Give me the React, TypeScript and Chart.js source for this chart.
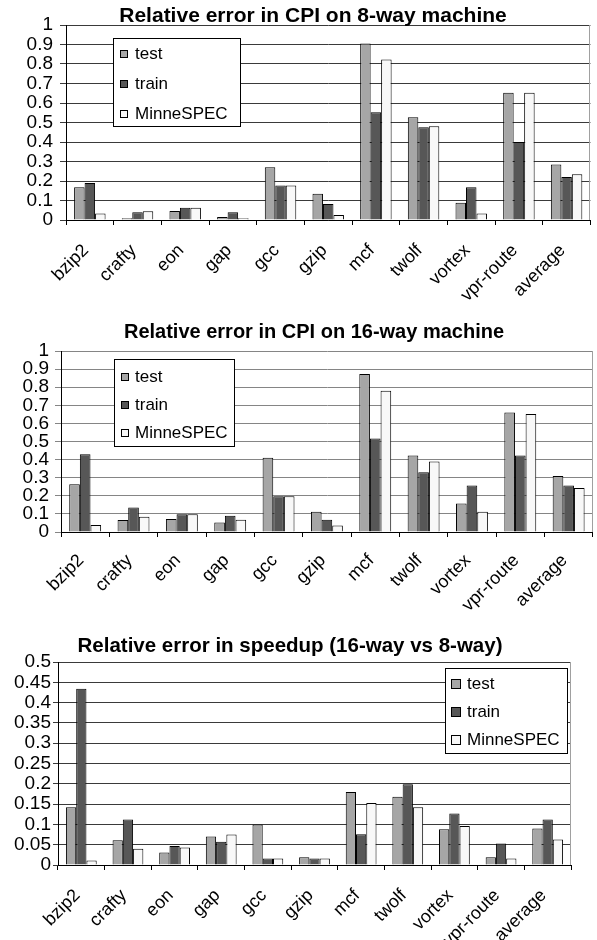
import React, { useEffect, useRef } from "react";
import { Chart, registerables } from "chart.js";

Chart.register(...registerables);

const FONT = "'Liberation Sans', Arial, Helvetica, sans-serif";

const categories = ["bzip2", "crafty", "eon", "gap", "gcc", "gzip", "mcf", "twolf", "vortex", "vpr-route", "average"];
const seriesNames = ["test", "train", "MinneSPEC"];
const seriesColors = ["#a6a6a6", "#575757", "#f8f8f8"];

// Relative error in CPI on 8-way machine
const cpi8Test = [0.168, 0.009, 0.046, 0.015, 0.27, 0.134, 0.905, 0.527, 0.089, 0.653, 0.285];
const cpi8Train = [0.19, 0.04, 0.063, 0.04, 0.177, 0.082, 0.553, 0.476, 0.168, 0.4, 0.22];
const cpi8Minne = [0.033, 0.045, 0.063, 0.009, 0.177, 0.026, 0.823, 0.481, 0.033, 0.653, 0.234];

// Relative error in CPI on 16-way machine
const cpi16Test = [0.264, 0.066, 0.072, 0.052, 0.41, 0.112, 0.873, 0.423, 0.158, 0.66, 0.31];
const cpi16Train = [0.43, 0.136, 0.098, 0.09, 0.198, 0.067, 0.517, 0.33, 0.257, 0.423, 0.257];
const cpi16Minne = [0.038, 0.084, 0.098, 0.067, 0.198, 0.036, 0.78, 0.39, 0.112, 0.652, 0.243];

// Relative error in speedup (16-way vs 8-way)
const speedTest = [0.142, 0.061, 0.031, 0.07, 0.1, 0.019, 0.18, 0.168, 0.088, 0.019, 0.09];
const speedTrain = [0.434, 0.112, 0.047, 0.057, 0.016, 0.016, 0.076, 0.199, 0.127, 0.053, 0.112];
const speedMinne = [0.011, 0.04, 0.043, 0.075, 0.016, 0.016, 0.153, 0.142, 0.096, 0.016, 0.063];

const titles = [
  "Relative error in CPI on 8-way machine",
  "Relative error in CPI on 16-way machine",
  "Relative error in speedup (16-way vs 8-way)",
];

const cpiAxisMax = 1;
const cpiAxisStep = 0.1;
const speedAxisMax = 0.5;
const speedAxisStep = 0.05;

const decorPlugin = {
  id: "decor",
  afterDraw(chart: any, _args: any, opts: any) {
    const ctx = chart.ctx;
    const area = chart.chartArea;
    ctx.save();
    // right frame line
    ctx.strokeStyle = opts.frameColor;
    ctx.lineWidth = 1;
    const rx = Math.round(area.right) - 0.5;
    ctx.beginPath();
    ctx.moveTo(rx, area.top);
    ctx.lineTo(rx, area.bottom);
    ctx.stroke();
    // title
    ctx.fillStyle = "#000";
    ctx.font = `bold ${opts.titleSize}px ${FONT}`;
    ctx.textAlign = "center";
    ctx.textBaseline = "alphabetic";
    ctx.fillText(opts.title, opts.titleX, opts.titleY);
    // legend box
    const b = opts.box;
    ctx.fillStyle = "#fff";
    ctx.fillRect(b.x, b.y, b.w, b.h);
    ctx.strokeStyle = "#000";
    ctx.strokeRect(Math.round(b.x) + 0.5, Math.round(b.y) + 0.5, Math.round(b.w), Math.round(b.h));
    chart.data.datasets.forEach((ds: any, i: number) => {
      const cy = b.y + b.first + i * b.gap;
      const s = b.swatch;
      const sx = Math.round(b.swatchX);
      const sy = Math.round(cy - s / 2);
      ctx.fillStyle = ds.backgroundColor;
      ctx.fillRect(sx, sy, s, s);
      ctx.strokeStyle = "#000";
      ctx.strokeRect(sx + 0.5, sy + 0.5, s, s);
      ctx.fillStyle = "#000";
      ctx.font = `${b.fontSize}px ${FONT}`;
      ctx.textAlign = "left";
      ctx.textBaseline = "middle";
      ctx.fillText(ds.label, b.textX, cy + 1);
    });
    ctx.restore();
  },
};

type Cfg = {
  top: number;
  height: number;
  series: number[][];
  max: number;
  step: number;
  title: string;
  titleX: number;
  titleY: number;
  titleSize: number;
  padTop: number;
  padRight: number;
  yW: number;
  xH: number;
  xPad: number;
  yPad: number;
  yTick: number;
  gridColor: string;
  box: any;
};

function BarPanel(props: { cfg: Cfg }) {
  const ref = useRef<HTMLCanvasElement | null>(null);
  const c = props.cfg;
  useEffect(() => {
    if (!ref.current) return;
    const chart = new Chart(ref.current, {
      type: "bar",
      data: {
        labels: categories,
        datasets: c.series.map((vals, i) => ({
          label: seriesNames[i],
          data: vals,
          backgroundColor: seriesColors[i],
          borderColor: "#000",
          borderWidth: 1,
          barPercentage: 1,
          categoryPercentage: 0.66,
        })),
      },
      options: {
        animation: false,
        responsive: false,
        maintainAspectRatio: false,
        devicePixelRatio: 1,
        layout: { padding: { top: c.padTop, right: c.padRight, left: 0, bottom: 0 } },
        plugins: {
          legend: { display: false },
          title: { display: false },
          tooltip: { enabled: false },
          decor: {
            frameColor: "#a0a0a0",
            title: c.title,
            titleX: c.titleX,
            titleY: c.titleY,
            titleSize: c.titleSize,
            box: c.box,
          },
        } as any,
        scales: {
          x: {
            type: "category",
            offset: true,
            grid: {
              offset: true,
              drawOnChartArea: false,
              drawTicks: true,
              tickLength: 5,
              color: "#000",
            },
            border: { display: true, color: "#000" },
            ticks: {
              minRotation: 45,
              maxRotation: 45,
              autoSkip: false,
              padding: c.xPad,
              labelOffset: -4,
              color: "#000",
              font: { family: FONT, size: 18 },
            },
            afterFit: (s: any) => {
              s.height = c.xH;
            },
          } as any,
          y: {
            min: 0,
            max: c.max,
            ticks: {
              stepSize: c.step,
              autoSkip: false,
              padding: c.yPad,
              color: "#000",
              font: { family: FONT, size: 19 },
              callback: (v: any) => String(Number(Number(v).toFixed(2))),
            },
            grid: { color: c.gridColor, tickLength: c.yTick, lineWidth: 1 },
            border: { display: true, color: "#000" },
            afterFit: (s: any) => {
              s.width = c.yW;
            },
          } as any,
        },
      },
      plugins: [decorPlugin],
    });
    return () => chart.destroy();
  }, []);
  return (
    <canvas
      ref={ref}
      width={597}
      height={c.height}
      style={{ position: "absolute", left: 0, top: c.top, width: 597, height: c.height }}
    />
  );
}

const panels: Cfg[] = [
  {
    top: 0,
    height: 300,
    series: [cpi8Test, cpi8Train, cpi8Minne],
    max: cpiAxisMax,
    step: cpiAxisStep,
    title: titles[0],
    titleX: 313,
    titleY: 22,
    titleSize: 21,
    padTop: 25,
    padRight: 3,
    yW: 66,
    xH: 80,
    xPad: 15,
    yPad: 7,
    yTick: 6,
    gridColor: "#3a3a3a",
    box: { x: 113, y: 38, w: 127, h: 88, first: 15, gap: 30, swatch: 7, swatchX: 120, textX: 135, fontSize: 17 },
  },
  {
    top: 300,
    height: 310,
    series: [cpi16Test, cpi16Train, cpi16Minne],
    max: cpiAxisMax,
    step: cpiAxisStep,
    title: titles[1],
    titleX: 314,
    titleY: 38,
    titleSize: 20,
    padTop: 51,
    padRight: 2,
    yW: 61,
    xH: 78,
    xPad: 13,
    yPad: 6,
    yTick: 6,
    gridColor: "#858585",
    box: { x: 114, y: 59, w: 120, h: 87, first: 17, gap: 28, swatch: 7, swatchX: 121, textX: 135, fontSize: 17 },
  },
  {
    top: 610,
    height: 330,
    series: [speedTest, speedTrain, speedMinne],
    max: speedAxisMax,
    step: speedAxisStep,
    title: titles[2],
    titleX: 290,
    titleY: 42,
    titleSize: 20.5,
    padTop: 52,
    padRight: 26,
    yW: 58,
    xH: 75,
    xPad: 15,
    yPad: 2,
    yTick: 5,
    gridColor: "#3a3a3a",
    box: { x: 445, y: 58, w: 122, h: 85, first: 15.5, gap: 28, swatch: 9, swatchX: 451, textX: 467, fontSize: 17 },
  },
];

export default function App() {
  return (
    <div style={{ position: "absolute", left: 0, top: 0, width: 597, height: 940, background: "#fff" }}>
      {panels.map((p, i) => (
        <BarPanel key={i} cfg={p} />
      ))}
    </div>
  );
}
